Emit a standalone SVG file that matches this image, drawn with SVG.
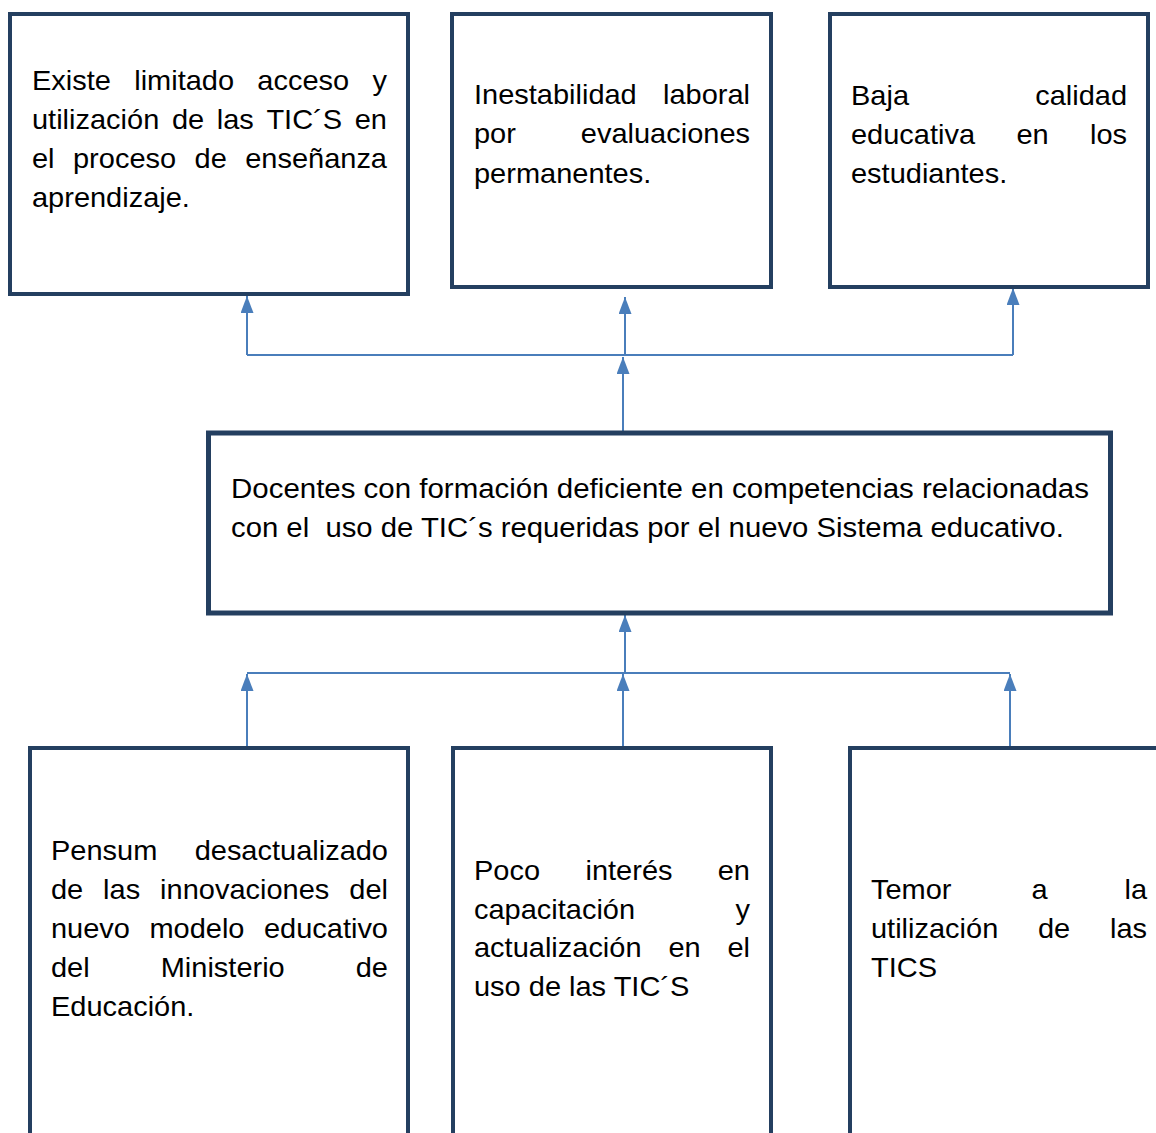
<svg xmlns="http://www.w3.org/2000/svg" width="1156" height="1133" viewBox="0 0 1156 1133">
<style>
.box{fill:#fff;stroke:#243F60;stroke-width:4}
.big{stroke-width:5}
.t{font-family:"Liberation Sans",Arial,sans-serif;font-size:27px;fill:#000}
.e{text-anchor:end}
.c{fill:none;stroke:#4A7EBB;stroke-width:2}
</style>
<defs>
<marker id="ah" viewBox="0 0 10 10" refX="10" refY="5" markerWidth="17" markerHeight="13" markerUnits="userSpaceOnUse" orient="auto" preserveAspectRatio="none">
<path d="M0,0 L10,5 L0,10 z" fill="#4A7EBB"/>
</marker>
</defs>
<rect width="1156" height="1133" fill="#fff"/>

<g id="connectors">
<path class="c" d="M247,355 H1013"/>
<path class="c" marker-end="url(#ah)" d="M247,355 V296"/>
<path class="c" marker-end="url(#ah)" d="M625,355 V297"/>
<path class="c" marker-end="url(#ah)" d="M1013,355 V288"/>
<path class="c" marker-end="url(#ah)" d="M623,431 V357"/>
<path class="c" d="M247,673 H1010"/>
<path class="c" marker-end="url(#ah)" d="M247,746 V674"/>
<path class="c" marker-end="url(#ah)" d="M623,746 V674"/>
<path class="c" marker-end="url(#ah)" d="M1010,746 V674"/>
<path class="c" marker-end="url(#ah)" d="M625,673 V615"/>
</g>

<g id="n1">
<rect class="box" x="10" y="14" width="398" height="280"/>
<text class="t" transform="matrix(1.074 0 0 1 32 90)">Existe</text>
<text class="t" transform="matrix(1.074 0 0 1 134.2 90)">limitado</text>
<text class="t" transform="matrix(1.074 0 0 1 257.3 90)">acceso</text>
<text class="t e" transform="matrix(1.074 0 0 1 387 90)">y</text>
<text class="t" transform="matrix(1.074 0 0 1 32 129)">utilización</text>
<text class="t" transform="matrix(1.074 0 0 1 171.9 129)">de</text>
<text class="t" transform="matrix(1.074 0 0 1 216.7 129)">las</text>
<text class="t" transform="matrix(1.074 0 0 1 266.4 129)">TIC´S</text>
<text class="t e" transform="matrix(1.074 0 0 1 387 129)">en</text>
<text class="t" transform="matrix(1.074 0 0 1 32 168)">el</text>
<text class="t" transform="matrix(1.074 0 0 1 73 168)">proceso</text>
<text class="t" transform="matrix(1.074 0 0 1 194.6 168)">de</text>
<text class="t e" transform="matrix(1.074 0 0 1 387 168)">enseñanza</text>
<text class="t" transform="matrix(1.074 0 0 1 32 207)">aprendizaje.</text>
</g>

<g id="n2">
<rect class="box" x="452" y="14" width="319" height="273"/>
<text class="t" transform="matrix(1.074 0 0 1 474 104)">Inestabilidad</text>
<text class="t e" transform="matrix(1.074 0 0 1 750 104)">laboral</text>
<text class="t" transform="matrix(1.074 0 0 1 474 143)">por</text>
<text class="t e" transform="matrix(1.074 0 0 1 750 143)">evaluaciones</text>
<text class="t" transform="matrix(1.074 0 0 1 474 183)">permanentes.</text>
</g>

<g id="n3">
<rect class="box" x="830" y="14" width="318" height="273"/>
<text class="t" transform="matrix(1.074 0 0 1 851 105)">Baja</text>
<text class="t e" transform="matrix(1.074 0 0 1 1127 105)">calidad</text>
<text class="t" transform="matrix(1.074 0 0 1 851 144)">educativa</text>
<text class="t" transform="matrix(1.074 0 0 1 1016.4 144)">en</text>
<text class="t e" transform="matrix(1.074 0 0 1 1127 144)">los</text>
<text class="t" transform="matrix(1.074 0 0 1 851 183)">estudiantes.</text>
</g>

<g id="n4">
<rect class="box big" x="208.5" y="433" width="902" height="180"/>
<text class="t" x="231" y="498" textLength="858" lengthAdjust="spacingAndGlyphs">Docentes con formación deficiente en competencias relacionadas</text>
<text class="t" x="231" y="537" textLength="833" lengthAdjust="spacingAndGlyphs" xml:space="preserve">con el  uso de TIC´s requeridas por el nuevo Sistema educativo.</text>
</g>

<g id="n5">
<rect class="box" x="30" y="748" width="378" height="420"/>
<text class="t" transform="matrix(1.074 0 0 1 51 860)">Pensum</text>
<text class="t e" transform="matrix(1.074 0 0 1 388 860)">desactualizado</text>
<text class="t" transform="matrix(1.074 0 0 1 51 899)">de</text>
<text class="t" transform="matrix(1.074 0 0 1 103.1 899)">las</text>
<text class="t" transform="matrix(1.074 0 0 1 160.1 899)">innovaciones</text>
<text class="t e" transform="matrix(1.074 0 0 1 388 899)">del</text>
<text class="t" transform="matrix(1.074 0 0 1 51 938)">nuevo</text>
<text class="t" transform="matrix(1.074 0 0 1 149.4 938)">modelo</text>
<text class="t e" transform="matrix(1.074 0 0 1 388 938)">educativo</text>
<text class="t" transform="matrix(1.074 0 0 1 51 977)">del</text>
<text class="t" transform="matrix(1.074 0 0 1 160.7 977)">Ministerio</text>
<text class="t e" transform="matrix(1.074 0 0 1 388 977)">de</text>
<text class="t" transform="matrix(1.074 0 0 1 51 1016)">Educación.</text>
</g>

<g id="n6">
<rect class="box" x="453" y="748" width="318" height="420"/>
<text class="t" transform="matrix(1.074 0 0 1 474 880)">Poco</text>
<text class="t" transform="matrix(1.074 0 0 1 585.5 880)">interés</text>
<text class="t e" transform="matrix(1.074 0 0 1 750 880)">en</text>
<text class="t" transform="matrix(1.074 0 0 1 474 919)">capacitación</text>
<text class="t e" transform="matrix(1.074 0 0 1 750 919)">y</text>
<text class="t" transform="matrix(1.074 0 0 1 474 957)">actualización</text>
<text class="t" transform="matrix(1.074 0 0 1 668.4 957)">en</text>
<text class="t e" transform="matrix(1.074 0 0 1 750 957)">el</text>
<text class="t" transform="matrix(1.074 0 0 1 474 996)">uso de las TIC´S</text>
</g>

<g id="n7">
<rect class="box" x="850" y="748" width="400" height="420"/>
<text class="t" transform="matrix(1.074 0 0 1 871 899)">Temor</text>
<text class="t" transform="matrix(1.074 0 0 1 1031.6 899)">a</text>
<text class="t e" transform="matrix(1.074 0 0 1 1147 899)">la</text>
<text class="t" transform="matrix(1.074 0 0 1 871 938)">utilización</text>
<text class="t" transform="matrix(1.074 0 0 1 1038 938)">de</text>
<text class="t e" transform="matrix(1.074 0 0 1 1147 938)">las</text>
<text class="t" transform="matrix(1.074 0 0 1 871 977)">TICS</text>
</g>
</svg>
